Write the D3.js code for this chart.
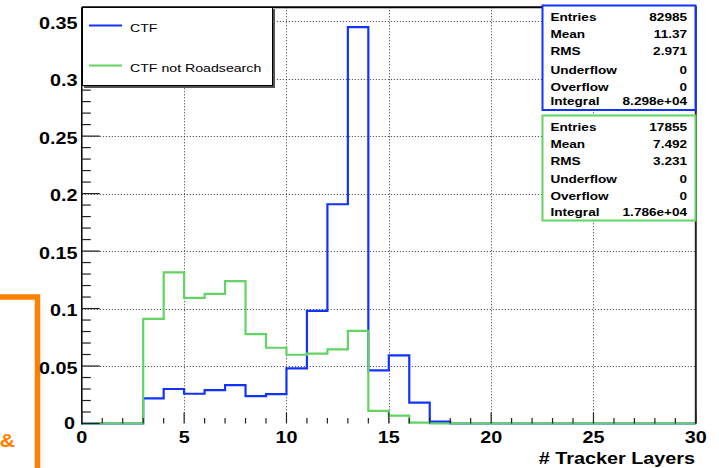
<!DOCTYPE html>
<html>
<head>
<meta charset="utf-8">
<script src="https://cdn.jsdelivr.net/npm/d3@7"></script>
<style>
  html, body { margin: 0; padding: 0; background: #fff; }
  svg { display: block; }
  text { font-family: "Liberation Sans", Arial, Helvetica, sans-serif; }
</style>
</head>
<body>
<svg id="chart" width="719" height="468"></svg>
<script>
// Bin contents (unit-width bins from 0 to 30), normalised to unit area
const binEdgesStart = d3.range(0, 30);
const ctfValues = [0, 0, 0, 0.0219, 0.0300, 0.0259, 0.0291, 0.0334, 0.0239, 0.0256,
                   0.0480, 0.0980, 0.1907, 0.3448, 0.0462, 0.0592, 0.0181, 0.0016, 0, 0,
                   0, 0, 0, 0, 0, 0, 0, 0, 0, 0];
const ctfNotRsValues = [0, 0, 0, 0.0910, 0.1314, 0.1093, 0.1128, 0.1238, 0.0778, 0.0659,
                        0.0598, 0.0607, 0.0645, 0.0806, 0.0109, 0.0068, 0.0007, 0, 0, 0,
                        0, 0, 0, 0, 0, 0, 0, 0, 0, 0];
const seriesNames = ["CTF", "CTF not Roadsearch"];
const xTickValues = [0, 5, 10, 15, 20, 25, 30];
const yTickValues = [0, 0.05, 0.1, 0.15, 0.2, 0.25, 0.3, 0.35];
const yTickLabels = ["0", "0.05", "0.1", "0.15", "0.2", "0.25", "0.3", "0.35"];
const xTitle = "# Tracker Layers";
const statLabels = ["Entries", "Mean", "RMS", "Underflow", "Overflow", "Integral"];
const ctfStats = ["82985", "11.37", "2.971", "0", "0", "8.298e+04"];
const ctfNotRsStats = ["17855", "7.492", "3.231", "0", "0", "1.786e+04"];

const BLUE = "#1233ff";
const GREEN = "#63d463";
const ORANGE = "#ff8000";
const SX = 1.2; // horizontal text stretch

const svg = d3.select("#chart");
const frame = { left: 81.8, right: 695.8, top: 7.3, bottom: 423.5 };

const x = d3.scaleLinear().domain([0, 30]).range([frame.left, frame.right]);
const yMax = 1.05 * d3.max(ctfValues);
const y = d3.scaleLinear().domain([0, yMax]).range([frame.bottom, frame.top]);

// stretched text helper
function label(g, px, py, str, opts) {
  const o = Object.assign({ size: 16.5, weight: "bold", anchor: "start", fill: "#000" }, opts || {});
  return g.append("g")
    .attr("transform", `translate(${px},${py}) scale(${SX},1)`)
    .append("text")
    .attr("x", 0).attr("y", 0)
    .attr("text-anchor", o.anchor)
    .attr("font-size", o.size)
    .attr("font-weight", o.weight)
    .attr("fill", o.fill)
    .text(str);
}

// orange fragment at the left edge
svg.append("path")
  .attr("d", `M0,297 H37.5 V468`)
  .attr("fill", "none").attr("stroke", ORANGE).attr("stroke-width", 5.5);
label(svg, -0.5, 447, "&", { size: 18, fill: ORANGE });

// grid
const grid = svg.append("g").attr("stroke", "#333").attr("stroke-width", 1)
  .attr("stroke-dasharray", "1,2");
grid.selectAll("line.gx").data(xTickValues.filter(v => v > 0 && v < 30)).join("line")
  .attr("x1", d => Math.round(x(d)) + 0.5).attr("x2", d => Math.round(x(d)) + 0.5)
  .attr("y1", frame.top).attr("y2", frame.bottom);
grid.selectAll("line.gy").data(yTickValues.filter(v => v > 0)).join("line")
  .attr("y1", d => Math.round(y(d)) + 0.5).attr("y2", d => Math.round(y(d)) + 0.5)
  .attr("x1", frame.left).attr("x2", frame.right);

// histogram outlines
function histPath(vals) {
  const pts = [[0, 0]];
  vals.forEach((v, i) => { pts.push([binEdgesStart[i], v]); pts.push([binEdgesStart[i] + 1, v]); });
  pts.push([30, 0]);
  return d3.line().x(d => x(d[0])).y(d => y(d[1])).curve(d3.curveLinear)(pts);
}
svg.append("path").attr("d", histPath(ctfValues))
  .attr("fill", "none").attr("stroke", BLUE).attr("stroke-width", 2.2);
svg.append("path").attr("d", histPath(ctfNotRsValues))
  .attr("fill", "none").attr("stroke", GREEN).attr("stroke-width", 2.2);

// frame: left axis line, top and right borders
svg.append("line").attr("x1", frame.left).attr("x2", frame.left)
  .attr("y1", frame.top).attr("y2", frame.bottom + 1).attr("stroke", "#000").attr("stroke-width", 1.5);
svg.append("line").attr("x1", frame.left).attr("x2", frame.right + 1)
  .attr("y1", frame.top).attr("y2", frame.top).attr("stroke", "#000").attr("stroke-width", 2);
svg.append("line").attr("x1", frame.right).attr("x2", frame.right)
  .attr("y1", frame.top).attr("y2", frame.bottom).attr("stroke", "#222").attr("stroke-width", 2);

// y axis ticks (major every 0.05, minor every 0.01)
const yMinor = d3.range(0, 36).map(i => i * 0.01).filter(v => v <= yMax);
const yAx = svg.append("g").attr("stroke", "#222").attr("stroke-width", 1.2);
yAx.selectAll("line").data(yMinor).join("line")
  .attr("x1", frame.left)
  .attr("x2", (d, i) => frame.left + (i % 5 === 0 ? 18 : 9))
  .attr("y1", d => y(d)).attr("y2", d => y(d));
yTickValues.forEach((v, i) => {
  label(svg, 77.5 - (i === 0 ? 2.5 : 0), y(v) + (i === 0 ? 5.5 : 7.5), yTickLabels[i], { anchor: "end" });
});

// x axis ticks (major every 5, minor every 1)
const xAx = svg.append("g").attr("stroke", "#222").attr("stroke-width", 1.2);
xAx.selectAll("line").data(d3.range(0, 31)).join("line")
  .attr("x1", d => x(d)).attr("x2", d => x(d))
  .attr("y1", frame.bottom)
  .attr("y2", d => frame.bottom - (d % 5 === 0 ? 11 : 5.5));
xTickValues.forEach(v => {
  label(svg, x(v), 443, d3.format("d")(v), { anchor: "middle" });
});
label(svg, 695, 464, xTitle, { anchor: "end" });

// legend
const leg = svg.append("g");
leg.append("rect").attr("x", 84).attr("y", 9).attr("width", 191).attr("height", 79).attr("fill", "#555");
leg.append("rect").attr("x", 82.5).attr("y", 7.5).attr("width", 190).attr("height", 78)
  .attr("fill", "#fff").attr("stroke", "#000").attr("stroke-width", 1);
[BLUE, GREEN].forEach((c, i) => {
  const ly = [25.5, 65.5][i];
  leg.append("line").attr("x1", 89).attr("x2", 122).attr("y1", ly).attr("y2", ly)
    .attr("stroke", c).attr("stroke-width", 2.2);
  label(leg, 130, ly + 6, seriesNames[i], { size: 11.8, weight: "normal" });
});

// statistics boxes
function statsBox(top, bottom, color, vals, baselines) {
  const g = svg.append("g");
  g.append("rect").attr("x", 542.5).attr("y", top).attr("width", 153).attr("height", bottom - top)
    .attr("fill", "#fff").attr("stroke", color).attr("stroke-width", 2);
  statLabels.forEach((s, i) => {
    label(g, 550.5, baselines[i], s, { size: 11.3 });
    label(g, 687, baselines[i], vals[i], { size: 11.3, anchor: "end" });
  });
}
statsBox(5.5, 110, BLUE, ctfStats, [20.5, 37.5, 55, 73.5, 91, 104.8]);
statsBox(115.5, 220.5, GREEN, ctfNotRsStats, [130.8, 147.5, 165, 182.5, 200, 215.8]);
</script>
</body>
</html>
